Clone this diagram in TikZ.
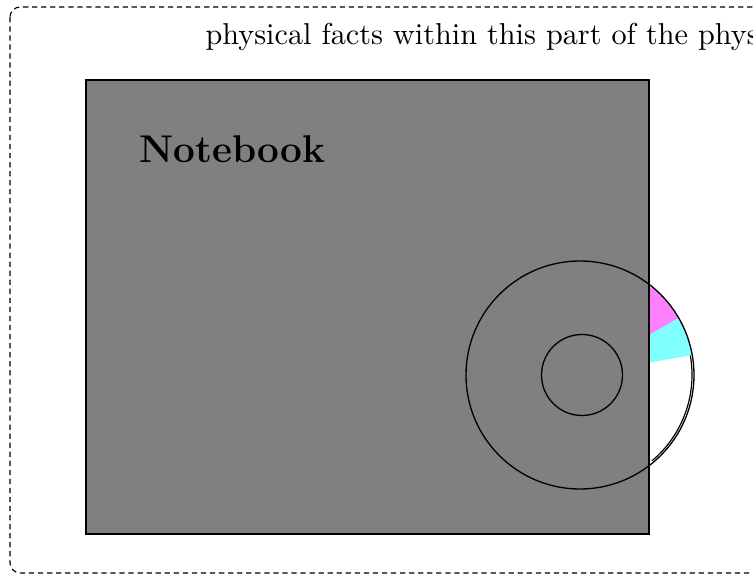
\documentclass[tikz,border=0pt]{standalone}
\definecolor{nbgray}{RGB}{130,127,130}
\definecolor{wpink}{RGB}{255,128,255}
\definecolor{wcyan}{RGB}{128,255,255}
\definecolor{wyellow}{RGB}{255,255,128}
\tikzset{
  frame/.style={draw, dash pattern=on 1.8pt off 1.3pt, rounded corners=3.5pt, line width=0.4pt},
  nbbox/.style={draw, line width=0.75pt, fill=nbgray},
  ring/.style={draw, line width=0.45pt},
}
\begin{document}
\begin{tikzpicture}[x=0.3425pt, y=-0.3425pt]
\useasboundingbox (0,0) rectangle (753,575);
\begin{scope}
\clip (0,0) rectangle (753,575);
\draw[frame] (10,7) rectangle (800,573);
\node[anchor=base west, inner sep=0, font=\fontsize{10.35}{12.5}\selectfont] (caption) at (205,45) {physical facts within this part of the physical};
\end{scope}
\coordinate (c) at (580,375);
% pie wedges
\fill[wyellow] (c) -- ++(-70:114) arc[start angle=-70, end angle=-51, radius=114] -- cycle;
\fill[wpink] (c) -- ++(-51:114) arc[start angle=-51, end angle=-30, radius=114] -- cycle;
\fill[wcyan] (c) -- ++(-30:114) arc[start angle=-30, end angle=-10, radius=114] -- cycle;
\fill[white] (c) -- ++(-10:114) arc[start angle=-10, end angle=60, radius=114] -- cycle;
\draw[line width=0.4pt] (c) ++(-10:112) arc[start angle=-10, end angle=50, radius=112];
\node[nbbox, minimum width=563*0.3425pt, minimum height=454*0.3425pt, anchor=north west, inner sep=0] (nb) at (85,79) {};
\node[anchor=base west, inner sep=0, font=\fontsize{13.25}{16}\selectfont\bfseries] (title) at (139,163) {Notebook};
\node[ring, circle, minimum size=228*0.3425pt, inner sep=0] (outer) at (c) {};
\node[ring, circle, minimum size=81*0.3425pt, inner sep=0] (inner) at (582,375) {};
\end{tikzpicture}
\end{document}
